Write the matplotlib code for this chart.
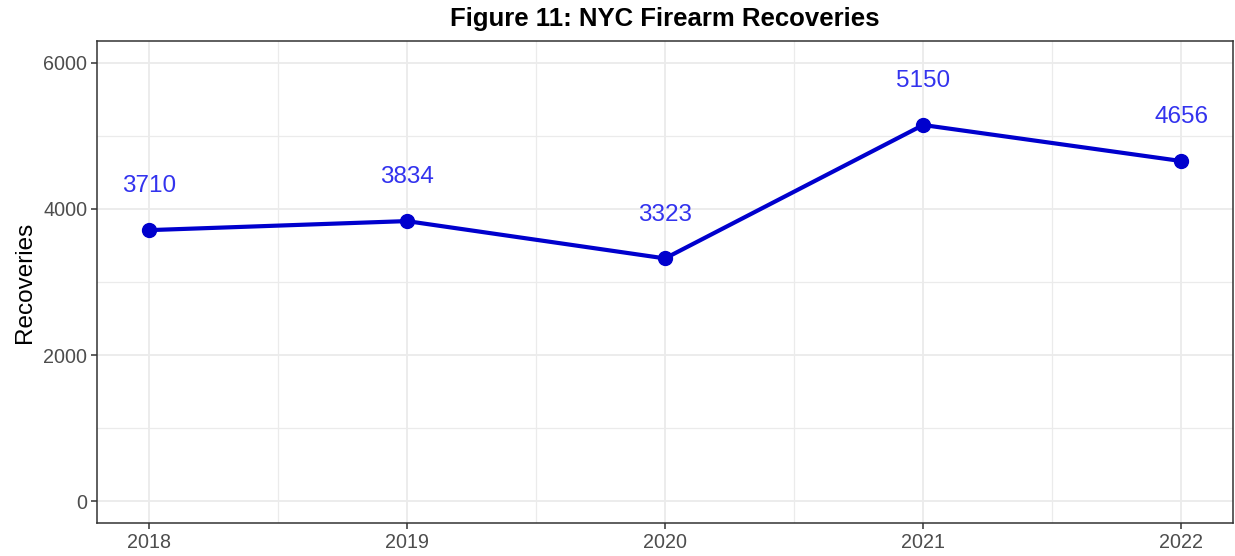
import matplotlib
matplotlib.use("Agg")
import matplotlib.pyplot as plt
from matplotlib.ticker import MultipleLocator

years = [2018, 2019, 2020, 2021, 2022]
recoveries = [3710, 3834, 3323, 5150, 4656]
yticks = [0, 2000, 4000, 6000]

plt.rcParams['font.family'] = ['Liberation Sans', 'DejaVu Sans']

fig = plt.figure(figsize=(12.35, 5.56), dpi=100)
ax = fig.add_axes([97/1235, 33/556, (1233-97)/1235, (523-41)/556])

ax.set_xlim(2017.8, 2022.2)
ax.set_ylim(-300, 6300)
ax.set_xticks(years)
ax.set_yticks(yticks)
ax.xaxis.set_minor_locator(MultipleLocator(0.5))
ax.yaxis.set_minor_locator(MultipleLocator(1000))
ax.grid(True, which='major', color='#EBEBEB', linewidth=1.3)
ax.grid(True, which='minor', color='#EBEBEB', linewidth=0.9)
ax.set_axisbelow(True)
for s in ax.spines.values():
    s.set_color('#333333')
    s.set_linewidth(1.1)
ax.tick_params(axis='both', which='major', labelsize=14.2, colors='#333333',
               labelcolor='#4D4D4D', length=4, width=1.1, pad=3)
ax.tick_params(axis='both', which='minor', length=0)

ax.plot(years, recoveries, color='#0000CD', linewidth=3, marker='o',
        markersize=10, zorder=3)
for x, y in zip(years, recoveries):
    ax.text(x, y + 600, str(y), color='#3333EE', fontsize=17.5,
            ha='center', va='center')

ax.set_ylabel('Recoveries', fontsize=17.5, color='black', labelpad=5)
ax.set_title('Figure 11: NYC Firearm Recoveries', fontsize=18.5,
             fontweight='bold', pad=11)

fig.savefig('out.png', dpi=100)
